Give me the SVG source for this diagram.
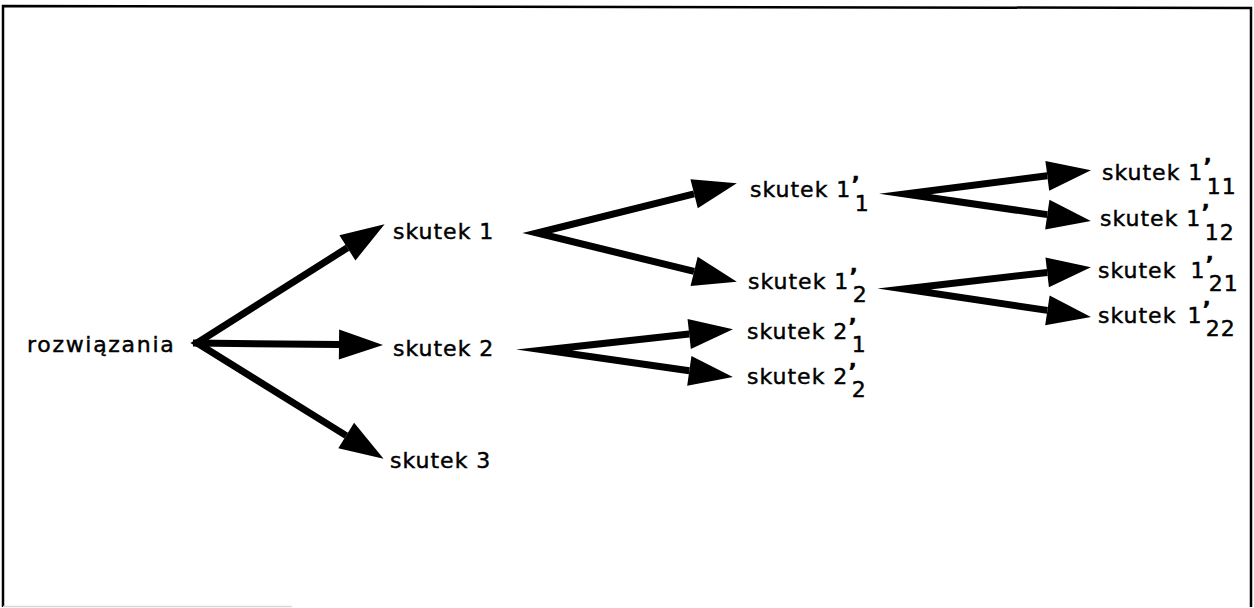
<svg xmlns="http://www.w3.org/2000/svg" width="1254" height="608" viewBox="0 0 1254 608">
  <style>
    .lbl { font-family: "DejaVu Sans", "Liberation Sans", sans-serif; font-size: 22px; letter-spacing: 1px; fill: #000; stroke: #000; stroke-width: 0.45px; }
    .wide { letter-spacing: 1.7px; }
    .pr { font-weight: bold; }
    .edge { fill: none; stroke: #000; stroke-width: 7; stroke-linejoin: miter; stroke-miterlimit: 20; }
    .frame { fill: none; stroke: #000; stroke-width: 2.5; }
  </style>
  <defs>
    <marker id="head" markerUnits="userSpaceOnUse" markerWidth="46" markerHeight="32" refX="0" refY="0" viewBox="0 -16 46 32" orient="auto-start-reverse" overflow="visible">
      <path d="M0,-15 L44,0 L0,15 Z" fill="#000"/>
    </marker>
  </defs>

  <rect width="1254" height="608" fill="#fff"/>

  <!-- outer frame -->
  <g id="frame">
    <polyline class="frame" points="3,607 3,6 1251,8 1251,607"/>
    <line x1="3" y1="606.5" x2="292" y2="606.5" stroke="#d8d8d8" stroke-width="1.5"/>
  </g>

  <!-- connectors: each fan is one path through its vertex; the miter forms the pointed tip -->
  <g id="connectors">
    <path class="edge" d="M347.4,247.8 L197,343 L346.2,435.6" marker-start="url(#head)" marker-end="url(#head)"/>
    <path class="edge" d="M193,343 L339,344.5" marker-end="url(#head)"/>
    <path class="edge" d="M694.1,193.8 L537,233 L694.1,271.4" marker-start="url(#head)" marker-end="url(#head)"/>
    <path class="edge" d="M689.2,334 L544,350 L689.3,370.8" marker-start="url(#head)" marker-end="url(#head)"/>
    <path class="edge" d="M1047.3,175.8 L905,194 L1047.3,214.6" marker-start="url(#head)" marker-end="url(#head)"/>
    <path class="edge" d="M1047.2,272.4 L904,289 L1047.4,310.4" marker-start="url(#head)" marker-end="url(#head)"/>
  </g>

  <g id="n-rozwiazania"><text class="lbl wide" x="27" y="352">rozwiązania</text></g>
  <g id="n-skutek1"><text class="lbl" x="393" y="239">skutek 1</text></g>
  <g id="n-skutek2"><text class="lbl" x="393" y="356">skutek 2</text></g>
  <g id="n-skutek3"><text class="lbl" x="390" y="468">skutek 3</text></g>

  <g id="n-skutek1-1"><text class="lbl" x="750" y="197">skutek 1<tspan class="pr" dy="-5">’</tspan><tspan dx="-6" dy="19">1</tspan></text></g>
  <g id="n-skutek1-2"><text class="lbl" x="748" y="289">skutek 1<tspan class="pr" dy="-5">’</tspan><tspan dx="-6" dy="18">2</tspan></text></g>
  <g id="n-skutek2-1"><text class="lbl" x="747" y="339">skutek 2<tspan class="pr" dy="-5">’</tspan><tspan dx="-6" dy="18">1</tspan></text></g>
  <g id="n-skutek2-2"><text class="lbl" x="747" y="384">skutek 2<tspan class="pr" dy="-5">’</tspan><tspan dx="-6" dy="18">2</tspan></text></g>

  <g id="n-skutek1-11"><text class="lbl" x="1102" y="180">skutek 1<tspan class="pr" dy="-6">’</tspan><tspan dx="-6" dy="20">11</tspan></text></g>
  <g id="n-skutek1-12"><text class="lbl" x="1100" y="226">skutek 1<tspan class="pr" dy="-6">’</tspan><tspan dx="-6" dy="20">12</tspan></text></g>
  <g id="n-skutek1-21"><text class="lbl" x="1098" y="278">skutek <tspan dx="6">1</tspan><tspan class="pr" dy="-6">’</tspan><tspan dx="-6" dy="19">21</tspan></text></g>
  <g id="n-skutek1-22"><text class="lbl" x="1098" y="323">skutek <tspan dx="3">1</tspan><tspan class="pr" dy="-6">’</tspan><tspan dx="-6" dy="19">22</tspan></text></g>
</svg>
